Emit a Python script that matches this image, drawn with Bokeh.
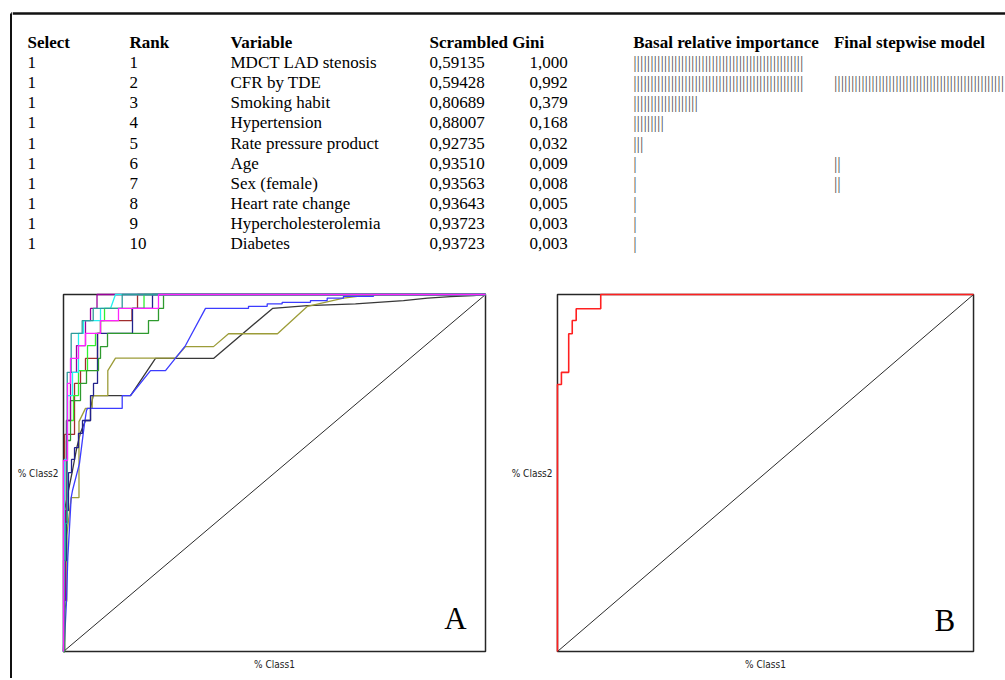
from bokeh.plotting import figure
from bokeh.layouts import row, column
from bokeh.models import Range1d, FixedTicker, Label
from bokeh.core.properties import value
from bokeh.embed import file_html
from bokeh.resources import INLINE

# ---------------- table data ----------------
headers = ["Select", "Rank", "Variable", "Scrambled Gini", "Basal relative importance", "Final stepwise model"]
select = [1, 1, 1, 1, 1, 1, 1, 1, 1, 1]
ranks = [1, 2, 3, 4, 5, 6, 7, 8, 9, 10]
variables = ["MDCT LAD stenosis", "CFR by TDE", "Smoking habit", "Hypertension",
             "Rate pressure product", "Age", "Sex (female)", "Heart rate change",
             "Hypercholesterolemia", "Diabetes"]
gini = [0.59135, 0.59428, 0.80689, 0.88007, 0.92735, 0.93510, 0.93563, 0.93643, 0.93723, 0.93723]
rel_importance = [1.000, 0.992, 0.379, 0.168, 0.032, 0.009, 0.008, 0.005, 0.003, 0.003]
basal_bars = [50, 50, 19, 9, 3, 1, 1, 1, 1, 1]
final_bars = [0, 50, 0, 0, 0, 2, 2, 0, 0, 0]

# ---------------- ROC curves, panel A (% Class1 , % Class2) ----------------
roc_black_x = [0, 0.24, 0.24, 1.18, 2.13, 3.15, 4.03, 5.21, 6.4, 6.4, 7.04, 15.88, 21.8, 35.55, 49.53, 57.82, 69.19, 80.57, 86.26, 91.71, 97.16, 100]
roc_black_y = [0, 17.1, 39.5, 45.1, 50.7, 57.1, 61.3, 64.7, 64.7, 68.1, 71.7, 71.7, 82.1, 82.1, 96.1, 96.9, 97.4, 98.3, 99.0, 99.4, 99.7, 100]
roc_olive_x = [0, 0.24, 0.78, 0.78, 1.18, 1.82, 3.67, 3.67, 5.21, 6.8, 6.8, 10.5, 10.5, 12.32, 26.54, 28.91, 35.55, 39.1, 50.71, 57.82, 66.35, 69.67, 75.12, 100]
roc_olive_y = [0, 11.5, 14.3, 32.5, 36.7, 43.1, 43.1, 64.4, 68.1, 68.1, 71.7, 71.7, 78.7, 82.2, 82.2, 85.4, 85.4, 89.0, 89.0, 96.7, 99.0, 99.5, 100, 100]
roc_blue_x = [0, 0.24, 0.71, 1.02, 1.82, 2.13, 3.79, 4.98, 5.45, 5.69, 13.91, 13.91, 15.88, 20.62, 24.17, 28.91, 33.65, 43.84, 43.84, 48.27, 48.27, 51.82, 51.82, 58.53, 58.53, 62.49, 62.49, 66.35, 66.35, 73.46, 73.46, 100]
roc_blue_y = [0, 3.1, 14.3, 26.3, 43.1, 45.1, 52.7, 63.9, 67.5, 68.1, 68.1, 71.7, 71.7, 78.7, 78.7, 85.7, 96.1, 96.1, 96.7, 96.7, 97.4, 97.4, 97.8, 97.8, 98.3, 98.3, 99.0, 99.0, 99.5, 99.5, 100, 100]
roc_brown_x = [0, 0.24, 0.24, 2.61, 2.61, 4.03, 4.03, 5.21, 5.21, 8.06, 8.06, 8.77, 8.77, 16.23, 16.23, 17.54, 17.54, 100]
roc_brown_y = [0, 0, 60.8, 60.8, 75.1, 75.1, 78.7, 78.7, 82.1, 82.1, 89.1, 89.1, 92.7, 92.7, 96.1, 96.1, 100, 100]
roc_lime_x = [0, 0.24, 0.24, 0.71, 0.71, 2.37, 2.37, 3.55, 3.55, 5.69, 5.69, 7.58, 7.58, 8.77, 8.77, 9.72, 9.72, 19.08, 19.08, 100]
roc_lime_y = [0, 0, 25.2, 25.2, 64.7, 64.7, 71.7, 71.7, 78.7, 78.7, 85.7, 85.7, 89.1, 89.1, 92.7, 92.7, 96.1, 96.1, 100, 100]
roc_navy_x = [0, 0.24, 0.24, 0.71, 0.71, 1.18, 1.18, 1.9, 1.9, 2.61, 2.61, 3.55, 3.55, 4.5, 4.5, 6.4, 6.4, 7.11, 7.11, 8.06, 8.06, 16.35, 16.35, 21.09, 21.09, 100]
roc_navy_y = [0, 0, 25.5, 25.5, 39.5, 39.5, 50.1, 50.1, 53.8, 53.8, 57.1, 57.1, 61.1, 61.1, 64.7, 64.7, 71.7, 71.7, 75.1, 75.1, 89.1, 89.1, 96.1, 96.1, 100, 100]
roc_green_x = [0, 0.24, 0.24, 0.71, 0.71, 1.66, 1.66, 4.03, 4.03, 5.45, 5.45, 8.29, 8.29, 8.77, 8.77, 10.43, 10.43, 20.14, 20.14, 22.51, 22.51, 23.7, 23.7, 100]
roc_green_y = [0, 0, 36.7, 36.7, 59.1, 59.1, 70.3, 70.3, 75.1, 75.1, 78.7, 78.7, 82.1, 82.1, 85.4, 85.4, 89.1, 89.1, 92.7, 92.7, 96.1, 96.1, 100, 100]
roc_purple_x = [0, 0.24, 0.47, 0.47, 0.71, 0.71, 1.66, 1.66, 3.08, 3.08, 5.21, 5.21, 6.4, 6.4, 7.94, 7.94, 100]
roc_purple_y = [0, 14.3, 14.3, 39.5, 39.5, 64.7, 64.7, 78.2, 78.2, 85.7, 85.7, 92.7, 92.7, 96.1, 96.1, 100, 100]
roc_cyan_x = [0, 0.24, 0.95, 0.95, 2.13, 2.13, 3.55, 3.55, 4.74, 4.74, 8.77, 8.77, 11.14, 12.32, 100]
roc_cyan_y = [0, 53.8, 53.8, 71.7, 71.7, 78.2, 78.2, 89.1, 89.1, 92.7, 92.7, 96.1, 96.1, 100, 100]
roc_teal_x = [0, 0, 0.47, 0.47, 0.88, 0.88, 1.82, 1.82, 4.43, 4.43, 7.04, 7.04, 13.91, 13.91, 100]
roc_teal_y = [0, 25.5, 25.5, 35.9, 35.9, 78.2, 78.2, 89.1, 89.1, 92.7, 92.7, 96.1, 96.1, 100, 100]
roc_magenta_x = [0, 0, 0.95, 0.95, 1.66, 1.66, 3.55, 3.55, 5.21, 5.21, 8.77, 8.77, 13.03, 13.03, 22.51, 22.51, 100]
roc_magenta_y = [0, 53.5, 53.5, 75.1, 75.1, 82.1, 82.1, 85.7, 85.7, 89.1, 89.1, 92.7, 92.7, 96.1, 96.1, 100, 100]

# ---------------- ROC curve, panel B (final model) ----------------
roc_final_x = [0, 0, 0.95, 0.95, 2.7, 2.7, 3.55, 3.55, 4.5, 4.5, 10.4, 10.4, 100]
roc_final_y = [0, 74.8, 74.8, 78.2, 78.2, 89.0, 89.0, 92.7, 92.7, 96.0, 96.0, 100, 100]

diag_x = [0, 100]
diag_y = [0, 100]

curves_a = [
    (roc_black_x, roc_black_y, "#383838"),
    (roc_olive_x, roc_olive_y, "#9C9C38"),
    (roc_blue_x, roc_blue_y, "#3C3CFF"),
    (roc_brown_x, roc_brown_y, "#A02C2C"),
    (roc_lime_x, roc_lime_y, "#30F030"),
    (roc_navy_x, roc_navy_y, "#22228C"),
    (roc_green_x, roc_green_y, "#2E9A2E"),
    (roc_purple_x, roc_purple_y, "#990099"),
    (roc_cyan_x, roc_cyan_y, "#22F0F0"),
    (roc_teal_x, roc_teal_y, "#2E9A9A"),
    (roc_magenta_x, roc_magenta_y, "#FF22FF"),
]

SERIF = value("Liberation Serif")
TABLE_FS = value("17px")
LABEL_FONT = "'Liberation Sans Narrow', 'Arial Narrow', 'DejaVu Sans Condensed', sans-serif"

# ---------------- layout constants (pixels) ----------------
TOTAL_W, TOTAL_H = 1005, 678
STRIP_W = 12
TABLE_H = 280
ROC_H = TOTAL_H - TABLE_H
FRAME_LINE_X = 10.75      # page x of the frame's left rule
FRAME_LINE_Y = 13.0       # page y of the frame's top rule
col_x = [15, 117, 218, 417, 517, 620.7, 821.4]   # column left edges in the table canvas
HEADER_BASELINE = 42.0
ROW_STEP = 20.1

# ---------------- left frame rule ----------------
left_strip = figure(width=STRIP_W, height=TOTAL_H, output_backend="svg", toolbar_location=None,
                    x_axis_location=None, y_axis_location=None, min_border=0,
                    outline_line_color=None,
                    x_range=Range1d(0, STRIP_W), y_range=Range1d(TOTAL_H, 0))
left_strip.grid.visible = False
left_strip.segment(x0=[FRAME_LINE_X, FRAME_LINE_X], y0=[FRAME_LINE_Y, FRAME_LINE_Y],
                   x1=[FRAME_LINE_X, STRIP_W], y1=[TOTAL_H, FRAME_LINE_Y],
                   line_color="#111111", line_width=2.5)

# ---------------- table ----------------
TW = TOTAL_W - STRIP_W
t = figure(width=TW, height=TABLE_H, output_backend="svg", toolbar_location=None,
           x_axis_location=None, y_axis_location=None,
           x_range=Range1d(0, TW), y_range=Range1d(TABLE_H, 0),
           min_border=0, outline_line_color=None)
t.grid.visible = False
t.segment(x0=[0], y0=[FRAME_LINE_Y], x1=[TW], y1=[FRAME_LINE_Y], line_color="#111111", line_width=2.5)

row_y = [HEADER_BASELINE + r * ROW_STEP for r in ranks]
common = dict(text_font=SERIF, text_font_size=TABLE_FS, text_baseline=value("alphabetic"),
              text_align=value("left"))

hdr_x = [col_x[0], col_x[1], col_x[2], col_x[3], col_x[5], col_x[6]]
t.text(x=hdr_x, y=[HEADER_BASELINE] * len(headers), text=headers, text_font_style=value("bold"),
       text_color="black", **common)
t.text(x=[col_x[0]] * 10, y=row_y, text=[str(s) for s in select], text_color="black", **common)
t.text(x=[col_x[1]] * 10, y=row_y, text=[str(r) for r in ranks], text_color="black", **common)
t.text(x=[col_x[2]] * 10, y=row_y, text=variables, text_color="black", **common)
t.text(x=[col_x[3]] * 10, y=row_y, text=[f"{g:.5f}".replace(".", ",") for g in gini],
       text_color="black", **common)
t.text(x=[col_x[4]] * 10, y=row_y, text=[f"{v:.3f}".replace(".", ",") for v in rel_importance],
       text_color="black", **common)
t.text(x=[col_x[5]] * 10, y=row_y, text=["|" * n for n in basal_bars], text_color="#555555", **common)
t.text(x=[col_x[6]] * 10, y=row_y, text=["|" * n for n in final_bars], text_color="#555555", **common)

# ---------------- ROC panels ----------------
PAD_X = 100.0 / 422 * 2   # 2 px of padding around the 0..100 box
PAD_Y = 100.0 / 357 * 2


def roc_figure(width, mbl, mbr):
    p = figure(width=width, height=ROC_H, output_backend="svg", toolbar_location=None,
               x_range=Range1d(-PAD_X, 100 + PAD_X), y_range=Range1d(-PAD_Y, 100 + PAD_Y),
               min_border_left=mbl, min_border_right=mbr, min_border_top=12,
               min_border_bottom=ROC_H - 12 - 361)
    p.grid.visible = False
    p.outline_line_color = None
    for ax in (p.xaxis[0], p.yaxis[0]):
        ax.ticker = FixedTicker(ticks=[])
        ax.axis_line_color = None
        ax.major_tick_in = 0
        ax.major_tick_out = 0
        ax.minor_tick_in = 0
        ax.minor_tick_out = 0
        ax.major_label_standoff = 0
        ax.axis_label_text_font = LABEL_FONT
        ax.axis_label_text_font_size = "10px"
        ax.axis_label_text_font_style = "normal"
        ax.axis_label_text_color = "#222222"
    p.xaxis.axis_label = "% Class1"
    p.xaxis.axis_label_standoff = 5
    p.yaxis.axis_label = "% Class2"
    p.yaxis.axis_label_standoff = 3
    p.yaxis.axis_label_orientation = "horizontal"
    # plot box (drawn beneath the curves)
    p.quad(left=[diag_x[0]], right=[diag_x[1]], bottom=[diag_y[0]], top=[diag_y[1]],
           fill_color=None, line_color="#262626", line_width=1.5, level="underlay")
    p.line(diag_x, diag_y, line_color="#2a2a2a", line_width=1)
    return p


pa = roc_figure(496, 49, 21)
for cx, cy, col in curves_a:
    pa.line(cx, cy, line_color=col, line_width=1.3)
pa.add_layout(Label(x=92.9, y=9.3, text="A", text_font="Liberation Serif", text_font_size="31px",
                    text_align="center", text_baseline="middle", text_color="black"))

pb = roc_figure(TOTAL_W - STRIP_W - 496, 41, 30)
pb.line(roc_final_x, roc_final_y, line_color="#FF2020", line_width=1.6)
pb.add_layout(Label(x=93.1, y=8.8, text="B", text_font="Liberation Serif", text_font_size="31px",
                    text_align="center", text_baseline="middle", text_color="black"))

layout = row(left_strip, column(t, row(pa, pb)))

open("out.html", "w").write(file_html(layout, INLINE, title="ROC"))
